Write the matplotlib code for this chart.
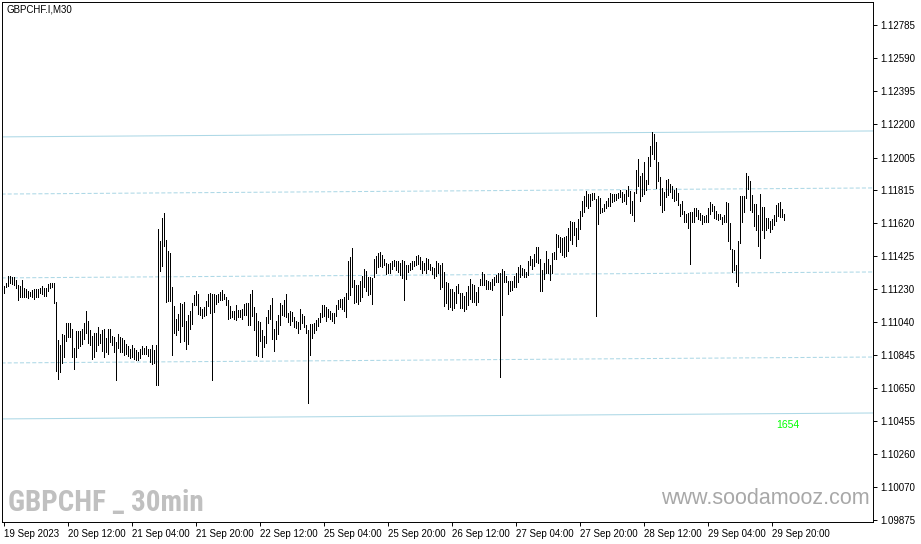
import matplotlib
matplotlib.use("Agg")
import matplotlib.pyplot as plt
import matplotlib.transforms as mtransforms
import pandas as pd

# GBPCHF M30 bars, high / low of each bar
highs = [
    1.11250, 1.11266, 1.11309, 1.11309, 1.11305, 1.11301, 1.11285, 1.11254, 1.11250, 1.11285,
    1.11238, 1.11231, 1.11223, 1.11215, 1.11227, 1.11231, 1.11231, 1.11234, 1.11238, 1.11250,
    1.11238, 1.11238, 1.11262, 1.11266, 1.11270, 1.11270, 1.11156, 1.10933, 1.10905, 1.10968,
    1.10964, 1.11035, 1.11031, 1.11035, 1.10999, 1.10886, 1.10984, 1.10987, 1.10987, 1.10999,
    1.11031, 1.11105, 1.11046, 1.10991, 1.10956, 1.10976, 1.10976, 1.11011, 1.10968, 1.10991,
    1.10995, 1.10944, 1.10999, 1.10999, 1.10956,
    1.10951, 1.10919, 1.10967, 1.10951, 1.10943, 1.10935, 1.10908, 1.10896, 1.10880, 1.10904,
    1.10888, 1.10872, 1.10865, 1.10880, 1.10896, 1.10888, 1.10896, 1.10880, 1.10880, 1.10904,
    1.10876, 1.10904, 1.11586, 1.11515, 1.11649, 1.11680, 1.11523, 1.11457, 1.11445, 1.11245,
    1.11131, 1.11057, 1.11084, 1.11151, 1.11147, 1.11155, 1.11045, 1.11080, 1.11104, 1.11151,
    1.11198, 1.11221, 1.11202, 1.11127, 1.11115, 1.11127, 1.11163, 1.11202, 1.11210, 1.11206,
    1.11202, 1.11198, 1.11202, 1.11217, 1.11225, 1.11206, 1.11186,
    1.11169, 1.11133, 1.11106, 1.11106, 1.11141, 1.11110, 1.11110, 1.11118, 1.11145, 1.11149,
    1.11153, 1.11204, 1.11227, 1.11125, 1.11090, 1.11047, 1.11039, 1.10992, 1.10957, 1.11071,
    1.11110, 1.11141, 1.11180, 1.10996, 1.11047, 1.11082, 1.11153, 1.11141, 1.11169, 1.11204,
    1.11090, 1.11106, 1.11098, 1.11071, 1.11047, 1.11039, 1.11118, 1.11086, 1.11075, 1.11020,
    1.10992, 1.11027, 1.11027, 1.11031, 1.11051, 1.11063, 1.11094, 1.11141, 1.11137, 1.11129,
    1.11114, 1.11102, 1.11090, 1.11094, 1.11141, 1.11169,
    1.11176, 1.11172, 1.11184, 1.11207, 1.11399, 1.11423, 1.11474, 1.11286, 1.11258, 1.11254,
    1.11278, 1.11309, 1.11349, 1.11341, 1.11305, 1.11301, 1.11298, 1.11407, 1.11427, 1.11443,
    1.11450, 1.11435, 1.11411, 1.11388, 1.11380, 1.11384, 1.11399, 1.11403, 1.11396, 1.11399,
    1.11384, 1.11403, 1.11396, 1.11376, 1.11376, 1.11388, 1.11399, 1.11399, 1.11427, 1.11435,
    1.11423, 1.11396, 1.11388, 1.11415, 1.11407, 1.11380, 1.11364, 1.11356, 1.11399, 1.11384,
    1.11372, 1.11384, 1.11333, 1.11274, 1.11270, 1.11231, 1.11231,
    1.11216, 1.11251, 1.11263, 1.11212, 1.11208, 1.11192, 1.11216, 1.11251, 1.11290, 1.11263,
    1.11255, 1.11216, 1.11243, 1.11290, 1.11333, 1.11321, 1.11286, 1.11282, 1.11274, 1.11294,
    1.11302, 1.11318, 1.11325, 1.11329, 1.11349, 1.11341, 1.11310, 1.11282, 1.11282, 1.11282,
    1.11310, 1.11325, 1.11365, 1.11376, 1.11357, 1.11353, 1.11333, 1.11396, 1.11427, 1.11408,
    1.11439, 1.11482, 1.11482, 1.11408, 1.11345, 1.11388, 1.11455, 1.11408, 1.11372, 1.11443,
    1.11451, 1.11557, 1.11549, 1.11541, 1.11533, 1.11541,
    1.11542, 1.11589, 1.11633, 1.11625, 1.11625, 1.11589, 1.11644, 1.11691, 1.11750, 1.11781,
    1.11809, 1.11789, 1.11789, 1.11797, 1.11797, 1.11762, 1.11778, 1.11766, 1.11711, 1.11735,
    1.11750, 1.11766, 1.11797, 1.11789, 1.11789, 1.11793, 1.11797, 1.11813, 1.11805, 1.11789,
    1.11813, 1.11836, 1.11809, 1.11750, 1.11805, 1.11930, 1.11997, 1.11895, 1.11915, 1.11977,
    1.11872, 1.12009, 1.12072, 1.12154, 1.12142, 1.12099, 1.11977, 1.11891, 1.11829, 1.11805,
    1.11876, 1.11879, 1.11852, 1.11836, 1.11813, 1.11829,
    1.11797, 1.11731, 1.11750, 1.11692, 1.11672, 1.11680, 1.11688, 1.11688, 1.11707, 1.11711,
    1.11699, 1.11680, 1.11668, 1.11660, 1.11668, 1.11707, 1.11746, 1.11731, 1.11719, 1.11692,
    1.11672, 1.11672, 1.11656, 1.11668, 1.11742, 1.11739, 1.11621, 1.11468, 1.11460, 1.11374,
    1.11515, 1.11778, 1.11778, 1.11782, 1.11915, 1.11899, 1.11868, 1.11786, 1.11735, 1.11731,
    1.11668, 1.11790, 1.11715, 1.11715, 1.11648, 1.11652, 1.11633, 1.11644, 1.11668, 1.11727,
    1.11739, 1.11742, 1.11703, 1.11676,
]
lows = [
    1.11211, 1.11242, 1.11250, 1.11266, 1.11262, 1.11254, 1.11238, 1.11168, 1.11183, 1.11183,
    1.11183, 1.11187, 1.11178, 1.11191, 1.11183, 1.11176, 1.11183, 1.11183, 1.11211, 1.11203,
    1.11191, 1.11191, 1.11223, 1.11238, 1.11246, 1.11152, 1.10752, 1.10701, 1.10744, 1.10799,
    1.10835, 1.10929, 1.10948, 1.10952, 1.10835, 1.10764, 1.10835, 1.10886, 1.10897, 1.10909,
    1.10940, 1.10972, 1.10917, 1.10901, 1.10823, 1.10831, 1.10870, 1.10905, 1.10913, 1.10870,
    1.10835, 1.10862, 1.10850, 1.10921, 1.10905,
    1.10861, 1.10696, 1.10884, 1.10865, 1.10865, 1.10845, 1.10853, 1.10837, 1.10829, 1.10833,
    1.10821, 1.10818, 1.10814, 1.10829, 1.10853, 1.10853, 1.10853, 1.10841, 1.10806, 1.10794,
    1.10798, 1.10669, 1.10669, 1.11339, 1.11370, 1.11488, 1.11159, 1.11163, 1.11163, 1.10845,
    1.10974, 1.10963, 1.10990, 1.10919, 1.11014, 1.10927, 1.10880, 1.10912, 1.10998, 1.11029,
    1.11139, 1.11139, 1.11084, 1.11080, 1.11065, 1.11072, 1.11080, 1.11135, 1.11092, 1.10700,
    1.11100, 1.11143, 1.11155, 1.11170, 1.11166, 1.11174, 1.11139,
    1.11059, 1.11063, 1.11071, 1.11055, 1.11051, 1.11067, 1.11067, 1.11059, 1.11082, 1.11082,
    1.11024, 1.11024, 1.11075, 1.10992, 1.10843, 1.10839, 1.10926, 1.10835, 1.10890, 1.10918,
    1.11031, 1.11059, 1.10937, 1.10871, 1.10941, 1.10969, 1.11024, 1.11078, 1.11075, 1.11071,
    1.11039, 1.11020, 1.11043, 1.11012, 1.11004, 1.10977, 1.11000, 1.11031, 1.11012, 1.10977,
    1.10565, 1.10847, 1.10945, 1.10973, 1.10992, 1.11016, 1.11039, 1.11071, 1.11075, 1.11047,
    1.11067, 1.11055, 1.11043, 1.11031, 1.11075, 1.11118,
    1.11129, 1.11113, 1.11102, 1.11070, 1.11176, 1.11200, 1.11247, 1.11149, 1.11156, 1.11145,
    1.11160, 1.11184, 1.11243, 1.11223, 1.11196, 1.11203, 1.11145, 1.11301, 1.11325, 1.11364,
    1.11368, 1.11360, 1.11376, 1.11321, 1.11325, 1.11329, 1.11349, 1.11368, 1.11345, 1.11333,
    1.11313, 1.11298, 1.11168, 1.11290, 1.11333, 1.11345, 1.11352, 1.11368, 1.11372, 1.11380,
    1.11352, 1.11329, 1.11345, 1.11329, 1.11352, 1.11345, 1.11321, 1.11298, 1.11309, 1.11325,
    1.11231, 1.11247, 1.11133, 1.11153, 1.11113, 1.11129, 1.11109,
    1.11122, 1.11149, 1.11212, 1.11122, 1.11122, 1.11106, 1.11118, 1.11137, 1.11176, 1.11157,
    1.11157, 1.11141, 1.11157, 1.11255, 1.11255, 1.11259, 1.11235, 1.11235, 1.11231, 1.11227,
    1.11255, 1.11271, 1.11271, 1.10718, 1.11082, 1.11274, 1.11271, 1.11204, 1.11220, 1.11227,
    1.11247, 1.11247, 1.11274, 1.11306, 1.11314, 1.11302, 1.11302, 1.11318, 1.11376, 1.11349,
    1.11369, 1.11392, 1.11384, 1.11220, 1.11223, 1.11294, 1.11325, 1.11325, 1.11286, 1.11325,
    1.11408, 1.11412, 1.11478, 1.11451, 1.11431, 1.11423,
    1.11429, 1.11456, 1.11523, 1.11495, 1.11550, 1.11487, 1.11527, 1.11585, 1.11664, 1.11683,
    1.11719, 1.11707, 1.11723, 1.11758, 1.11762, 1.11076, 1.11617, 1.11680, 1.11683, 1.11691,
    1.11711, 1.11723, 1.11723, 1.11742, 1.11750, 1.11758, 1.11766, 1.11774, 1.11746, 1.11750,
    1.11731, 1.11781, 1.11680, 1.11668, 1.11633, 1.11797, 1.11840, 1.11750, 1.11781, 1.11793,
    1.11813, 1.11852, 1.11958, 1.12028, 1.11997, 1.11825, 1.11868, 1.11727, 1.11683, 1.11699,
    1.11774, 1.11785, 1.11805, 1.11770, 1.11750, 1.11758,
    1.11727, 1.11664, 1.11676, 1.11629, 1.11629, 1.11594, 1.11382, 1.11625, 1.11625, 1.11664,
    1.11644, 1.11637, 1.11613, 1.11625, 1.11625, 1.11625, 1.11676, 1.11692, 1.11648, 1.11644,
    1.11641, 1.11644, 1.11617, 1.11625, 1.11625, 1.11515, 1.11468, 1.11331, 1.11343, 1.11272,
    1.11249, 1.11503, 1.11629, 1.11688, 1.11770, 1.11821, 1.11699, 1.11688, 1.11605, 1.11582,
    1.11488, 1.11413, 1.11578, 1.11531, 1.11578, 1.11590, 1.11570, 1.11586, 1.11609, 1.11633,
    1.11664, 1.11656, 1.11656, 1.11641,
]

# price axis labels as shown on the right scale
price_ticks = [1.12785, 1.12590, 1.12395, 1.12200, 1.12005, 1.11815, 1.11620, 1.11425,
               1.11230, 1.11040, 1.10845, 1.10650, 1.10455, 1.10260, 1.10070, 1.09875]

# regression channel: price at left and right end of the window
channel_x = [-1, 436]
channel_solid = [(1.12127, 1.12162), (1.10469, 1.10504)]
channel_dashed = [(1.11791, 1.11827), (1.11298, 1.11333), (1.10798, 1.10833)]

# bar times (30 min, weekends skipped)
times = pd.date_range("2023-09-19 20:00", "2023-09-29 23:30", freq="30min")
times = times[times.dayofweek < 5][:len(highs)]
idx = list(range(len(highs)))

W, H = 921, 544
fig = plt.figure(figsize=(W / 100, H / 100), dpi=100)
ax = fig.add_axes([2 / W, 22 / H, 871 / W, 520 / H])

ax.set_xlim(-0.75, 434.75)
ax.set_ylim(1.09863, 1.12920)

for lo, hi in channel_solid:
    ax.plot(channel_x, [lo, hi], color="#add8e6", lw=0.75, zorder=1)
for lo, hi in channel_dashed:
    ax.plot(channel_x, [lo, hi], color="#add8e6", lw=0.75,
            linestyle=(0, (3.9, 2.0)), zorder=1)

ax.vlines(idx, lows, highs, color="black", linewidth=0.65,
          antialiased=False, zorder=3)

# time labels every 16 hours
tick_pos = [0] + list(range(32, len(times), 32))
tick_lab = []
for i in tick_pos:
    t = times[i]
    if i == 0:
        tick_lab.append(f"{t.day} {t:%b %Y}")
    else:
        tick_lab.append(f"{t.day} {t:%b %H:%M}")
ax.set_xticks(tick_pos)
ax.set_xticklabels(tick_lab, fontsize=7, family="Liberation Sans")
shift = mtransforms.ScaledTranslation(2 / 100, 0, fig.dpi_scale_trans)
for lbl in ax.get_xticklabels():
    lbl.set_ha("left")
    lbl.set_transform(lbl.get_transform() + shift)
ax.tick_params(axis="x", length=3, width=0.7, pad=2, colors="black")

ax.yaxis.tick_right()
ax.set_yticks(price_ticks)
ax.set_yticklabels([f"{p:.5f}" for p in price_ticks], fontsize=7,
                   family="Liberation Sans")
ax.tick_params(axis="y", length=3, width=0.7, pad=2)

for s in ax.spines.values():
    s.set_linewidth(0.7)
    s.set_color("black")

ax.text(4 / 871, 1 - 8 / 520, "GBPCHF.I,M30", transform=ax.transAxes,
        fontsize=7, family="Liberation Sans", va="center", ha="left")
ax.text(386.25, 1.10433, "1654", color="#00ff00", fontsize=7.5,
        family="Liberation Sans", va="center", ha="left")

ax.text(6 / 871, 0.036, "GBPCHF _ 30min", transform=ax.transAxes,
        fontsize=21, fontweight="bold",
        family=["Roboto Condensed", "Liberation Sans"], color="#c0c0c0",
        va="center", ha="left")
ax.text(868 / 871, 0.046, "www.soodamooz.com", transform=ax.transAxes,
        fontsize=15.5, family="Liberation Sans", color="#a8a8a8",
        va="center", ha="right", clip_on=True)

fig.savefig("out.png", dpi=100)
